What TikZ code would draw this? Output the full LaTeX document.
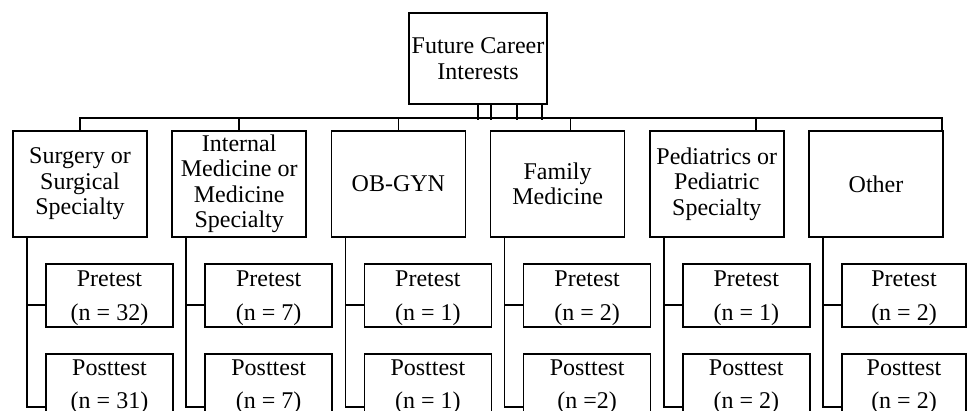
\documentclass[tikz,border=0pt]{standalone}
\usepackage{fontspec}
\setmainfont{Liberation Serif}
\begin{document}
\begin{tikzpicture}[x=1pt,y=-1pt, line width=1.7pt,
  box/.style={draw, inner sep=0pt, align=center, font=\fontsize{24}{25.5}\selectfont},
  catbox/.style={box, minimum width=134pt, minimum height=106pt},
  subbox/.style={draw, inner sep=0pt, minimum height=63pt},
  lbl/.style={anchor=base, inner sep=0pt, font=\fontsize{24}{25.5}\selectfont}]
\clip (0,0) rectangle (968,411);
\node[box, minimum width=138pt, minimum height=91pt] (top) at (478,58.5) {Future Career\\Interests};
\foreach \i/\t/\a/\b/\w in {
  1/{Surgery or\\Surgical\\Specialty}/{(n = 32)}/{(n = 31)}/127,
  2/{Internal\\Medicine or\\Medicine\\Specialty}/{(n = 7)}/{(n = 7)}/127,
  3/{OB-GYN}/{(n = 1)}/{(n = 1)}/127,
  4/{Family\\Medicine}/{(n = 2)}/{(n =2)}/127,
  5/{Pediatrics or\\Pediatric\\Specialty}/{(n = 1)}/{(n = 2)}/127,
  6/{Other}/{(n = 2)}/{(n = 2)}/124}{
  \pgfmathsetmacro{\L}{13+159.2*(\i-1)}
  \pgfmathsetmacro{\C}{\L+33+\w/2}
  \node[catbox] (cat\i) at (\L+67,184) {\t};
  \node[subbox, minimum width=\w pt] (pre\i) at (\C,295.5) {};
  \node[subbox, minimum width=\w pt] (post\i) at (\C,385.5) {};
  \node[lbl] at ([yshift=-23.3pt]pre\i.north) {Pretest};
  \node[lbl] at ([yshift=-57pt]pre\i.north) {\a};
  \node[lbl] at ([yshift=-22.7pt]post\i.north) {Posttest};
  \node[lbl] at ([yshift=-55pt]post\i.north) {\b};
  \draw ([xshift=-53pt]cat\i.south) |- ([yshift=-9.5pt]pre\i.west);
  \draw ([xshift=-53pt]cat\i.south) |- ([yshift=-21.5pt]post\i.west);
}
\draw (cat1.north) -- ++(0,-12) -| ([xshift=-2pt]cat6.north east);
\foreach \k/\o in {2/0,3/0,4/13,5/39}
  \draw ([xshift=\o pt]cat\k.north) -- ++(0,-12);
\foreach \o in {0,13,39,64}
  \draw ([xshift=\o pt]top.south) -- ++(0,15);
\end{tikzpicture}
\end{document}
